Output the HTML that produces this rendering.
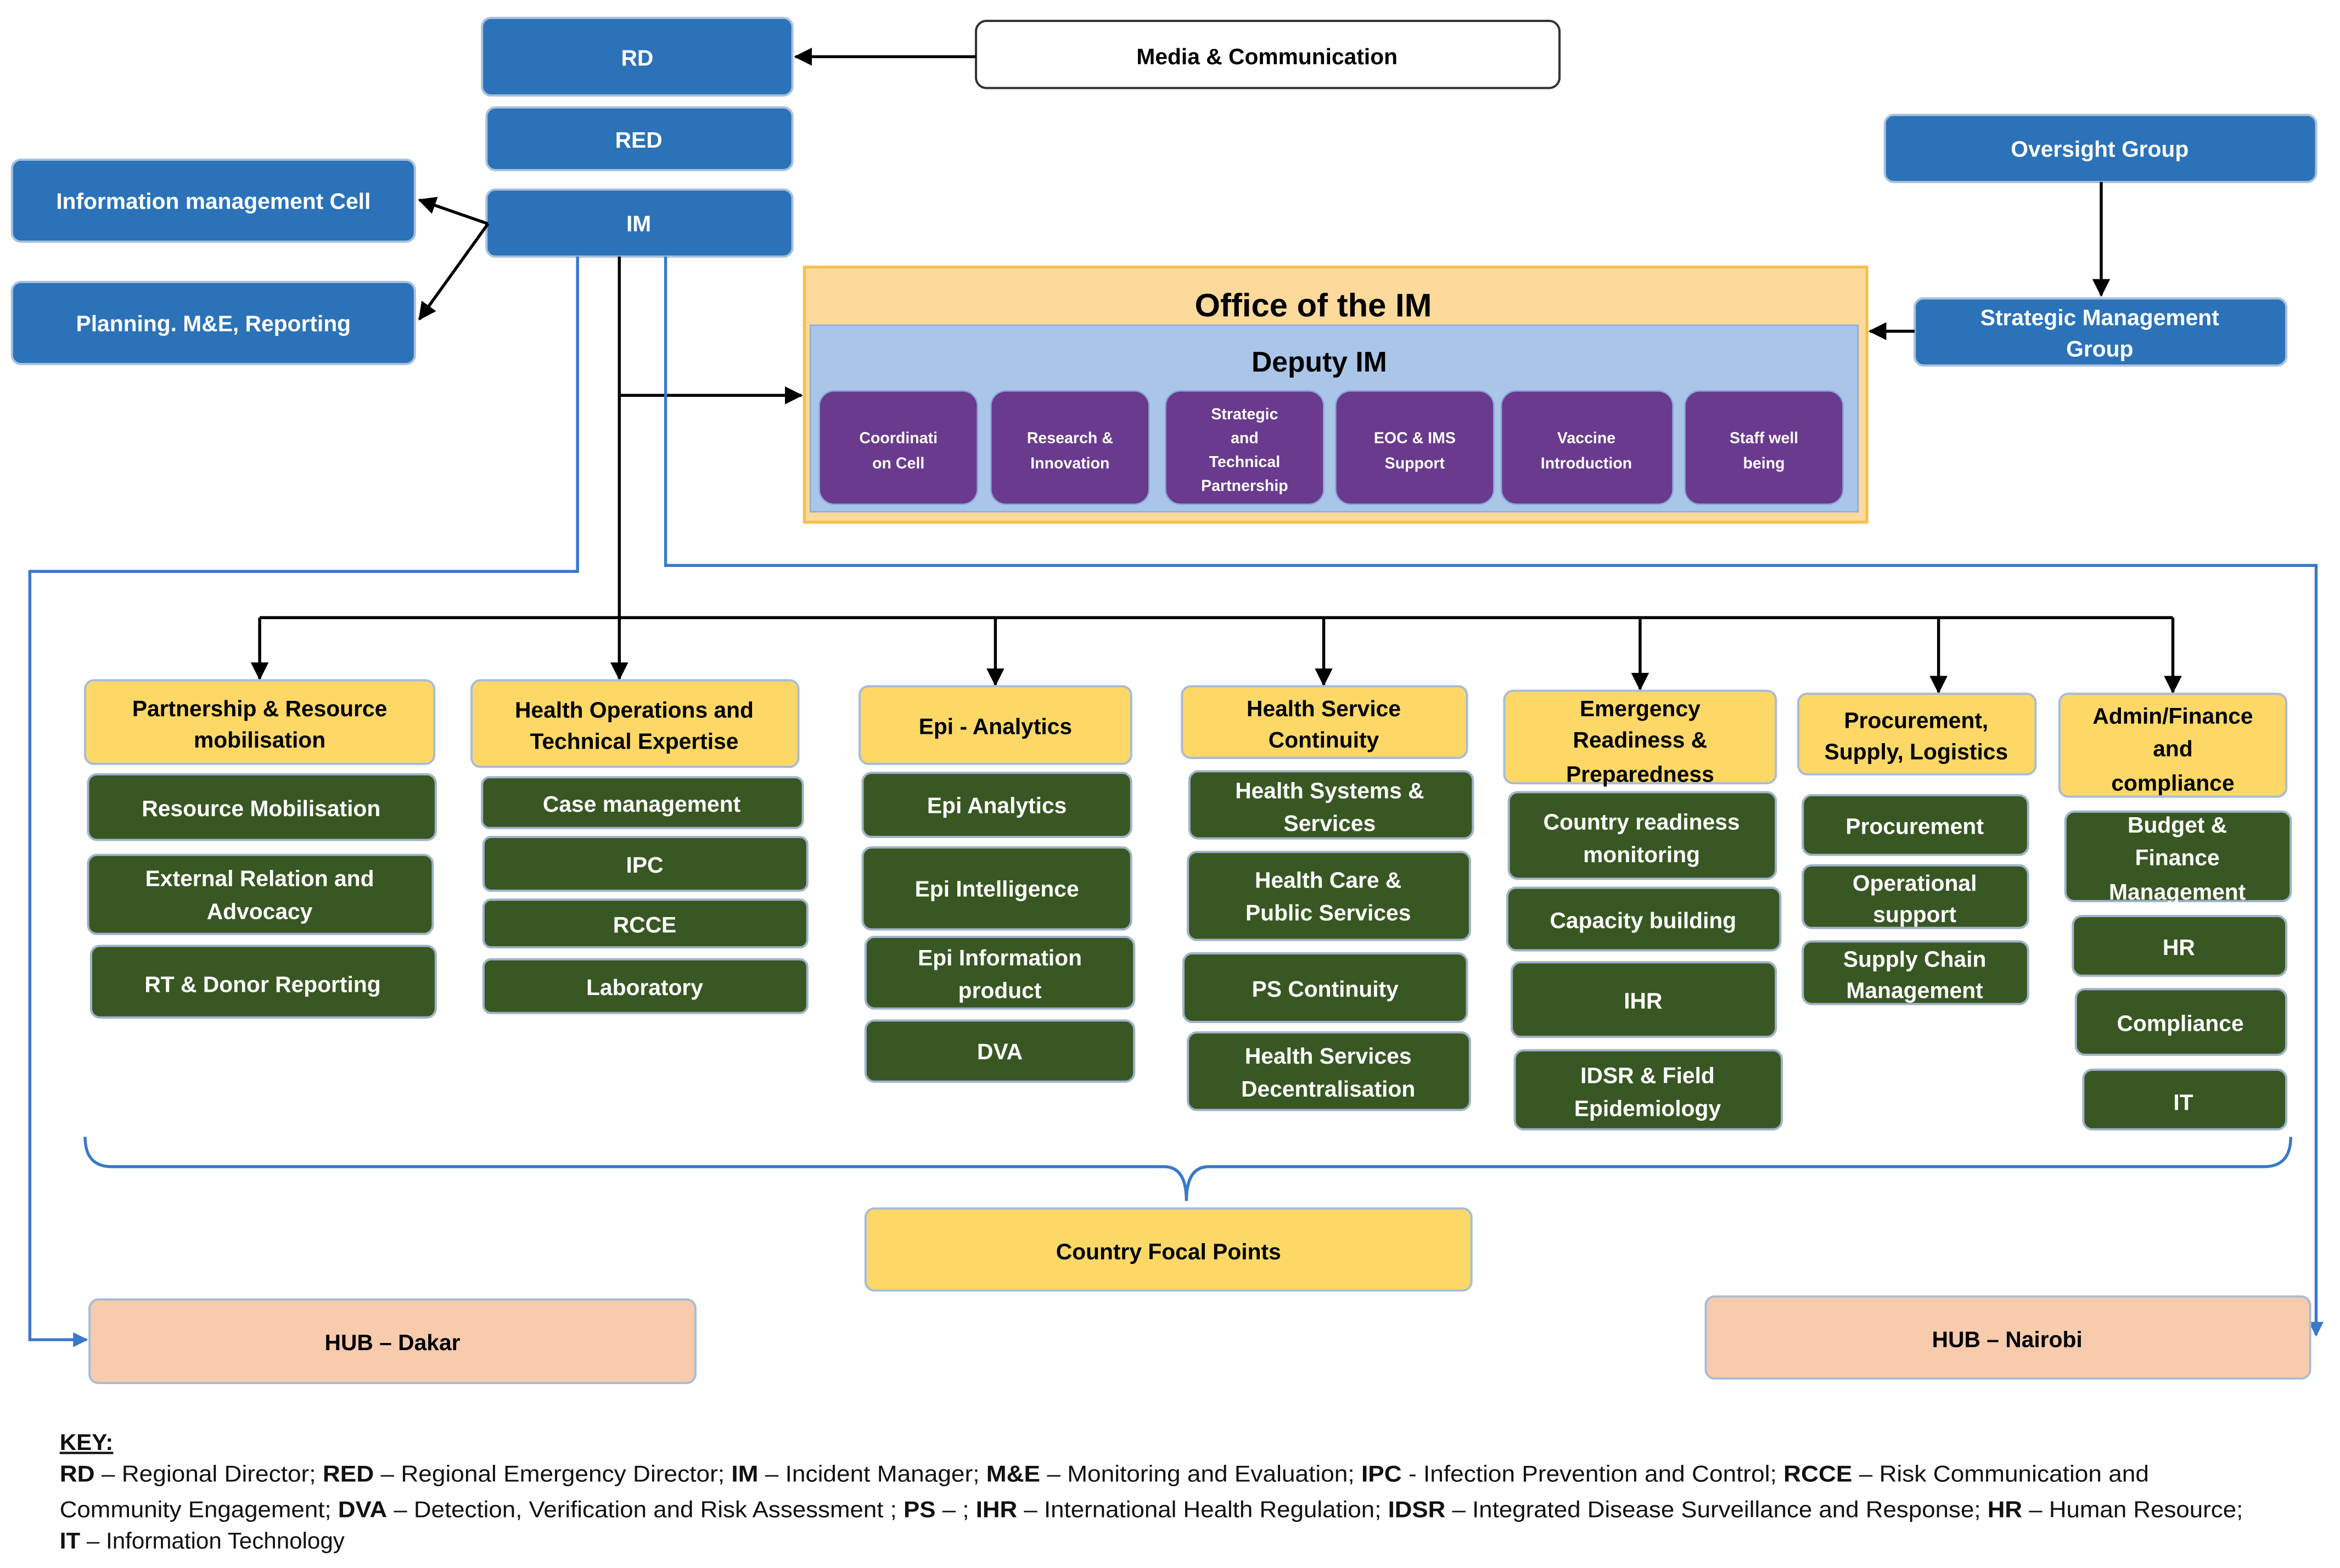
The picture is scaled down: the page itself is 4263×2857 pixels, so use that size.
<!DOCTYPE html>
<html><head><meta charset="utf-8"><style>html,body{margin:0;padding:0;background:#fff}svg{display:block}</style></head><body>
<svg xmlns="http://www.w3.org/2000/svg" width="4263" height="2857" viewBox="0 0 1568 1051" preserveAspectRatio="none" font-family="Liberation Sans, sans-serif">
<defs>
<marker id="ab" markerWidth="8" markerHeight="8" refX="7" refY="4" orient="auto" markerUnits="userSpaceOnUse"><path d="M0,0 L8,4 L0,8 z" fill="#000"/></marker>
<marker id="au" markerWidth="10" markerHeight="10" refX="9" refY="5" orient="auto" markerUnits="userSpaceOnUse"><path d="M0,0 L10,5 L0,10 z" fill="#3a78c9"/></marker>
<marker id="ak" markerWidth="12" markerHeight="12" refX="11" refY="6" orient="auto" markerUnits="userSpaceOnUse"><path d="M0,0 L12,6 L0,12 z" fill="#000"/></marker>
</defs>
<style>
.b{fill:#2b72b8;stroke:#a9c1dc;stroke-width:1.5}
.y{fill:#fdd866;stroke:#a8bdd6;stroke-width:1.5}
.g{fill:#385723;stroke:#9fb4c9;stroke-width:1.5}
.p{fill:#6a3a8e;stroke:#8aa7d6;stroke-width:1}
.h{fill:#f8cbad;stroke:#a8bdd6;stroke-width:1.5}
.tw{fill:#fff;font-weight:bold;font-size:15px;text-anchor:middle}
.tk{fill:#000;font-weight:bold;font-size:15px;text-anchor:middle}
.tp{fill:#fff;font-weight:bold;font-size:10.5px;text-anchor:middle}
.ln{stroke:#000;stroke-width:2;fill:none}
.bl{stroke:#3a78c9;stroke-width:2;fill:none}
</style>
<!-- top -->
<rect class="b" x="323" y="12" width="208" height="52" rx="6"/><text class="tw" x="427" y="44">RD</text>
<rect x="654" y="14" width="391" height="45" rx="7" fill="#fff" stroke="#333" stroke-width="1.5"/><text class="tk" x="849" y="43">Media &amp; Communication</text>
<line class="ln" x1="654" y1="38" x2="533" y2="38" marker-end="url(#ak)"/>
<rect class="b" x="326" y="72" width="205" height="42" rx="6"/><text class="tw" x="428" y="99">RED</text>
<rect class="b" x="326" y="127" width="205" height="45" rx="6"/><text class="tw" x="428" y="155">IM</text>
<rect class="b" x="8" y="107" width="270" height="55" rx="6"/><text class="tw" x="143" y="140">Information management Cell</text>
<rect class="b" x="8" y="189" width="270" height="55" rx="6"/><text class="tw" x="143" y="222">Planning. M&amp;E, Reporting</text>
<line class="ln" x1="327" y1="150" x2="281" y2="134" marker-end="url(#ak)"/>
<line class="ln" x1="327" y1="150" x2="281" y2="214" marker-end="url(#ak)"/>
<rect class="b" x="1263" y="77" width="289" height="45" rx="6"/><text class="tw" x="1407" y="105">Oversight Group</text>
<rect class="b" x="1283" y="200" width="249" height="45" rx="6"/><text class="tw" x="1407" y="218">Strategic Management</text><text class="tw" x="1407" y="239">Group</text>
<line class="ln" x1="1408" y1="122" x2="1408" y2="198" marker-end="url(#ak)"/>
<line class="ln" x1="1283" y1="222" x2="1253" y2="222" marker-end="url(#ak)"/>
<!-- office -->
<rect x="539" y="179" width="712" height="171" fill="#fdd99b" stroke="#f3c24b" stroke-width="2"/>
<text x="880" y="212" font-size="22" font-weight="bold" text-anchor="middle">Office of the IM</text>
<rect x="543" y="218" width="702" height="125" fill="#a9c6e8" stroke="#8fb0d8" stroke-width="1"/>
<text x="884" y="249" font-size="19" font-weight="bold" text-anchor="middle">Deputy IM</text>
<rect class="p" x="549" y="262" width="106" height="76" rx="10"/><text class="tp" x="602" y="297">Coordinati</text><text class="tp" x="602" y="314">on Cell</text>
<rect class="p" x="664" y="262" width="106" height="76" rx="10"/><text class="tp" x="717" y="297">Research &amp;</text><text class="tp" x="717" y="314">Innovation</text>
<rect class="p" x="781" y="262" width="106" height="76" rx="10"/><text class="tp" x="834" y="281">Strategic</text><text class="tp" x="834" y="297">and</text><text class="tp" x="834" y="313">Technical</text><text class="tp" x="834" y="329">Partnership</text>
<rect class="p" x="895" y="262" width="106" height="76" rx="10"/><text class="tp" x="948" y="297">EOC &amp; IMS</text><text class="tp" x="948" y="314">Support</text>
<rect class="p" x="1006" y="262" width="115" height="76" rx="10"/><text class="tp" x="1063" y="297">Vaccine</text><text class="tp" x="1063" y="314">Introduction</text>
<rect class="p" x="1129" y="262" width="106" height="76" rx="10"/><text class="tp" x="1182" y="297">Staff well</text><text class="tp" x="1182" y="314">being</text>
<!-- connectors -->
<line class="ln" x1="415" y1="172" x2="415" y2="414"/>
<line class="ln" x1="415" y1="265" x2="537" y2="265" marker-end="url(#ak)"/>
<line class="ln" x1="174" y1="414" x2="1456" y2="414"/>
<g class="ln" marker-end="url(#ak)">
<line x1="174" y1="414" x2="174" y2="455"/><line x1="415" y1="414" x2="415" y2="455"/><line x1="667" y1="414" x2="667" y2="459"/><line x1="887" y1="414" x2="887" y2="459"/><line x1="1099" y1="414" x2="1099" y2="462"/><line x1="1299" y1="414" x2="1299" y2="464"/><line x1="1456" y1="414" x2="1456" y2="464"/>
</g>
<polyline class="bl" points="387,172 387,383 20,383 20,898 58,898" marker-end="url(#au)"/>
<polyline class="bl" points="446,172 446,379 1552,379 1552,895" marker-end="url(#au)"/>
<path class="bl" d="M57,762 Q57,782 75,782 L780,782 Q795,782 795,805 Q795,782 810,782 L1517,782 Q1535,782 1535,762"/>
<!-- categories -->
<rect class="y" x="57" y="456" width="234" height="56" rx="6"/><text class="tk" x="174" y="480">Partnership &amp; Resource</text><text class="tk" x="174" y="501">mobilisation</text>
<rect class="y" x="316" y="456" width="219" height="58" rx="6"/><text class="tk" x="425" y="481">Health Operations and</text><text class="tk" x="425" y="502">Technical Expertise</text>
<rect class="y" x="576" y="460" width="182" height="52" rx="6"/><text class="tk" x="667" y="492">Epi - Analytics</text>
<rect class="y" x="792" y="460" width="191" height="48" rx="6"/><text class="tk" x="887" y="480">Health Service</text><text class="tk" x="887" y="501">Continuity</text>
<rect class="y" x="1008" y="463" width="182" height="62" rx="6"/><text class="tk" x="1099" y="480">Emergency</text><text class="tk" x="1099" y="501">Readiness &amp;</text><text class="tk" x="1099" y="524">Preparedness</text>
<rect class="y" x="1205" y="465" width="159" height="54" rx="6"/><text class="tk" x="1284" y="488">Procurement,</text><text class="tk" x="1284" y="509">Supply, Logistics</text>
<rect class="y" x="1380" y="465" width="152" height="69" rx="6"/><text class="tk" x="1456" y="485">Admin/Finance</text><text class="tk" x="1456" y="507">and</text><text class="tk" x="1456" y="530">compliance</text>
<!-- green col1 -->
<rect class="g" x="59" y="519" width="233" height="44" rx="6"/><text class="tw" x="175" y="547">Resource Mobilisation</text>
<rect class="g" x="59" y="573" width="231" height="53" rx="6"/><text class="tw" x="174" y="594">External Relation and</text><text class="tw" x="174" y="616">Advocacy</text>
<rect class="g" x="61" y="634" width="231" height="48" rx="6"/><text class="tw" x="176" y="665">RT &amp; Donor Reporting</text>
<!-- col2 -->
<rect class="g" x="323" y="521" width="215" height="34" rx="5"/><text class="tw" x="430" y="544">Case management</text>
<rect class="g" x="324" y="561" width="217" height="36" rx="5"/><text class="tw" x="432" y="585">IPC</text>
<rect class="g" x="324" y="603" width="217" height="32" rx="5"/><text class="tw" x="432" y="625">RCCE</text>
<rect class="g" x="324" y="643" width="217" height="36" rx="5"/><text class="tw" x="432" y="667">Laboratory</text>
<!-- col3 -->
<rect class="g" x="578" y="518" width="180" height="43" rx="6"/><text class="tw" x="668" y="545">Epi Analytics</text>
<rect class="g" x="578" y="568" width="180" height="55" rx="6"/><text class="tw" x="668" y="601">Epi  Intelligence</text>
<rect class="g" x="580" y="628" width="180" height="48" rx="6"/><text class="tw" x="670" y="647">Epi Information</text><text class="tw" x="670" y="669">product</text>
<rect class="g" x="580" y="684" width="180" height="41" rx="6"/><text class="tw" x="670" y="710">DVA</text>
<!-- col4 -->
<rect class="g" x="797" y="517" width="190" height="45" rx="6"/><text class="tw" x="891" y="535">Health Systems &amp;</text><text class="tw" x="891" y="557">Services</text>
<rect class="g" x="796" y="571" width="189" height="59" rx="6"/><text class="tw" x="890" y="595">Health Care &amp;</text><text class="tw" x="890" y="617">Public Services</text>
<rect class="g" x="793" y="639" width="190" height="46" rx="6"/><text class="tw" x="888" y="668">PS Continuity</text>
<rect class="g" x="796" y="692" width="189" height="52" rx="6"/><text class="tw" x="890" y="713">Health Services</text><text class="tw" x="890" y="735">Decentralisation</text>
<!-- col5 -->
<rect class="g" x="1011" y="531" width="179" height="58" rx="6"/><text class="tw" x="1100" y="556">Country readiness</text><text class="tw" x="1100" y="578">monitoring</text>
<rect class="g" x="1010" y="595" width="183" height="42" rx="6"/><text class="tw" x="1101" y="622">Capacity building</text>
<rect class="g" x="1013" y="645" width="177" height="50" rx="6"/><text class="tw" x="1101" y="676">IHR</text>
<rect class="g" x="1015" y="704" width="179" height="53" rx="6"/><text class="tw" x="1104" y="726">IDSR &amp; Field</text><text class="tw" x="1104" y="748">Epidemiology</text>
<!-- col6 -->
<rect class="g" x="1208" y="533" width="151" height="40" rx="6"/><text class="tw" x="1283" y="559">Procurement</text>
<rect class="g" x="1208" y="580" width="151" height="42" rx="6"/><text class="tw" x="1283" y="597">Operational</text><text class="tw" x="1283" y="618">support</text>
<rect class="g" x="1208" y="631" width="151" height="42" rx="6"/><text class="tw" x="1283" y="648">Supply Chain</text><text class="tw" x="1283" y="669">Management</text>
<!-- col7 -->
<rect class="g" x="1384" y="544" width="151" height="60" rx="6"/><text class="tw" x="1459" y="558">Budget &amp;</text><text class="tw" x="1459" y="580">Finance</text><text class="tw" x="1459" y="603">Management</text>
<rect class="g" x="1389" y="614" width="143" height="40" rx="6"/><text class="tw" x="1460" y="640">HR</text>
<rect class="g" x="1391" y="663" width="141" height="44" rx="6"/><text class="tw" x="1461" y="691">Compliance</text>
<rect class="g" x="1396" y="717" width="136" height="40" rx="6"/><text class="tw" x="1463" y="744">IT</text>
<!-- bottom -->
<rect class="y" x="580" y="810" width="406" height="55" rx="6"/><text class="tk" x="783" y="844">Country Focal Points</text>
<rect class="h" x="60" y="871" width="406" height="56" rx="6"/><text class="tk" x="263" y="905">HUB – Dakar</text>
<rect class="h" x="1143" y="869" width="405" height="55" rx="6"/><text class="tk" x="1345" y="903">HUB – Nairobi</text>
<!-- key -->
<g font-size="15.5" fill="#111">
<text x="40" y="972" font-weight="bold" text-decoration="underline">KEY:</text>
<text x="40" y="993" textLength="1400" lengthAdjust="spacingAndGlyphs"><tspan font-weight="bold">RD</tspan> – Regional Director; <tspan font-weight="bold">RED</tspan> – Regional Emergency Director; <tspan font-weight="bold">IM</tspan> – Incident Manager; <tspan font-weight="bold">M&amp;E</tspan> – Monitoring and Evaluation; <tspan font-weight="bold">IPC</tspan> -  Infection Prevention and Control; <tspan font-weight="bold">RCCE</tspan> – Risk Communication and</text>
<text x="40" y="1017" textLength="1463" lengthAdjust="spacingAndGlyphs">Community Engagement;  <tspan font-weight="bold">DVA</tspan> – Detection, Verification and Risk Assessment ; <tspan font-weight="bold">PS</tspan> – ; <tspan font-weight="bold">IHR</tspan> – International Health Regulation; <tspan font-weight="bold">IDSR</tspan> – Integrated Disease Surveillance and Response; <tspan font-weight="bold">HR</tspan> – Human Resource;</text>
<text x="40" y="1038"><tspan font-weight="bold">IT</tspan> – Information Technology</text>
</g>
</svg>
</body></html>
